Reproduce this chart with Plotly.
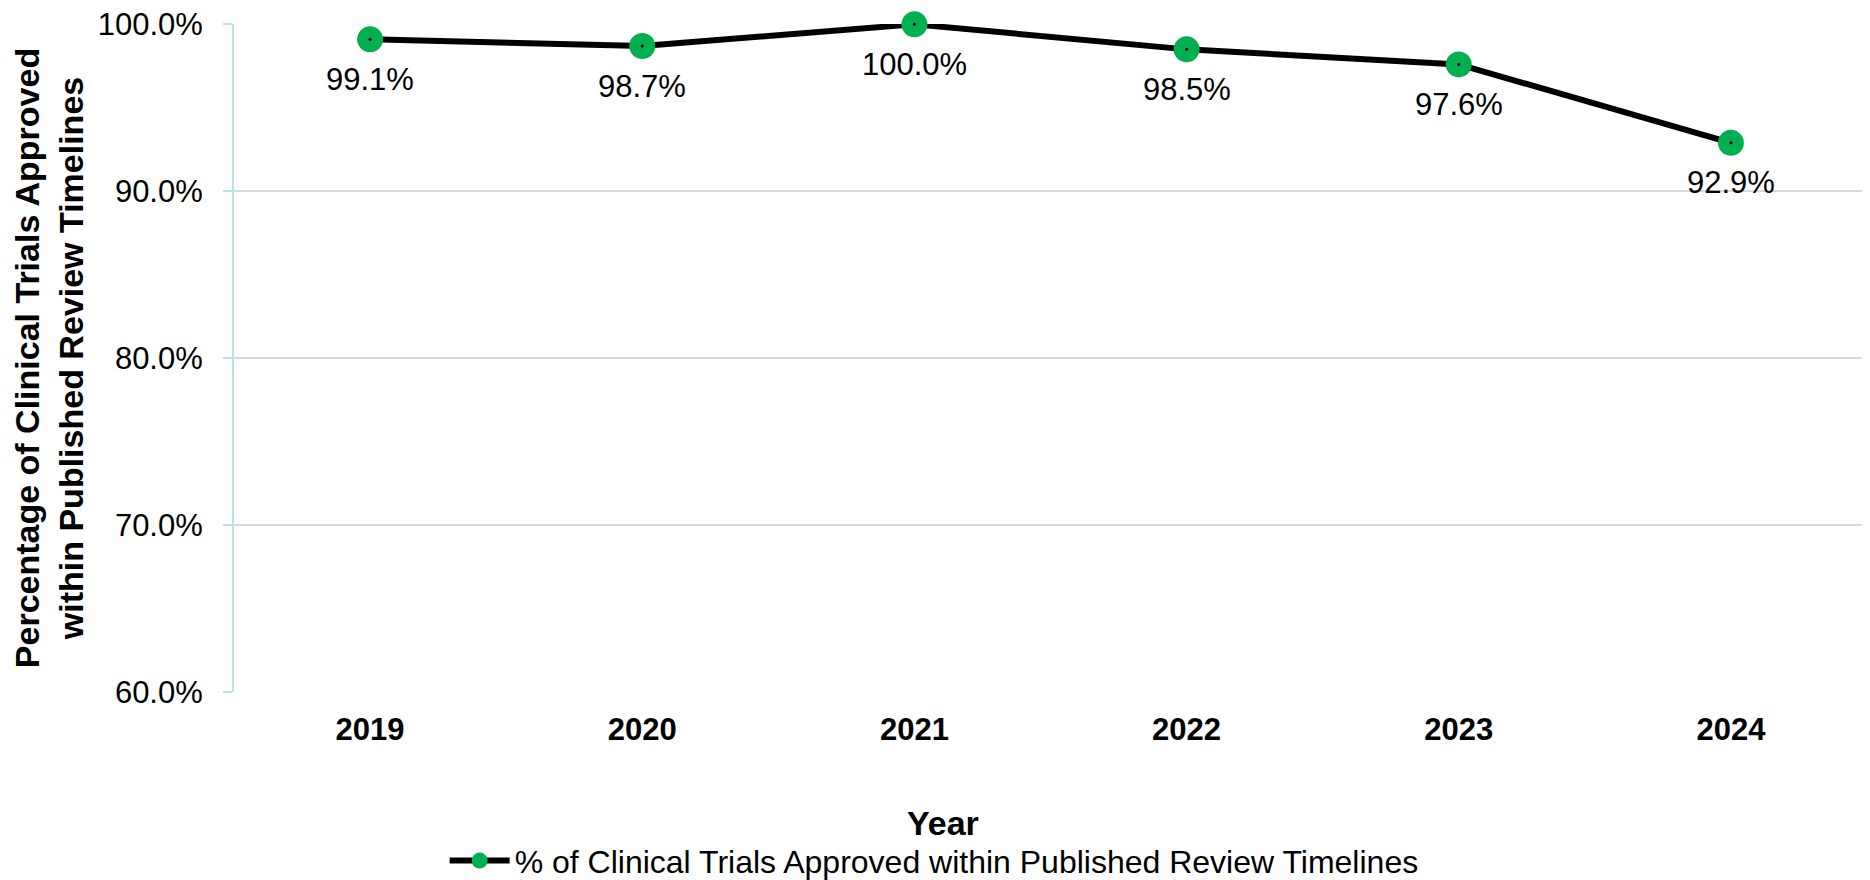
import plotly.graph_objects as go

years = ["2019", "2020", "2021", "2022", "2023", "2024"]
pct_approved = [99.1, 98.7, 100.0, 98.5, 97.6, 92.9]
y_ticks = [60, 70, 80, 90, 100]
series_name = "% of Clinical Trials Approved within Published Review Timelines"

FONT = "Liberation Sans, Arial, sans-serif"
GREEN = "#00b050"
AXIS_BLUE = "#b7e2e7"
GRID = "#d9d9d9"
FS = 31
TS = 34

fig = go.Figure()
fig.add_trace(go.Scatter(
    x=years, y=pct_approved, mode="lines+markers", name=series_name,
    line=dict(color="black", width=6),
    marker=dict(color=GREEN, size=26, line=dict(width=0)),
    cliponaxis=False, showlegend=True,
))
fig.add_trace(go.Scatter(
    x=years, y=pct_approved, mode="markers",
    marker=dict(color="black", size=3), cliponaxis=False,
    showlegend=False, hoverinfo="skip",
))

for i, v in enumerate(pct_approved):
    fig.add_annotation(x=i, y=v, xref="x", yref="y", text=f"{v:.1f}%", showarrow=False,
                       yshift=-40, font=dict(family=FONT, size=FS, color="black"))

# x-axis title, centred on the whole figure as in the reference
fig.add_annotation(text="<b>Year</b>", xref="paper", yref="paper", x=0.434, y=-0.196,
                   xanchor="center", yanchor="middle", showarrow=False,
                   font=dict(family=FONT, size=TS, color="black"))

# page body has an 8px margin, so the figure is sized/offset to compensate
fig.update_layout(
    width=1862, height=872,
    margin=dict(l=226, r=3, t=16, b=188, autoexpand=False),
    paper_bgcolor="white", plot_bgcolor="white",
    font=dict(family=FONT, size=FS, color="black"),
    showlegend=True,
    legend=dict(orientation="h", x=0.129, xanchor="left", yref="container", y=0.022, yanchor="middle",
                font=dict(family=FONT, size=32, color="black"), itemwidth=60),
)
fig.update_xaxes(
    type="category", range=[-0.5, 5.5], automargin=False,
    showgrid=False, showline=False, zeroline=False, ticks="",
    tickfont=dict(family=FONT, size=FS, color="black", weight="bold"),
    ticklabelstandoff=16,
)
fig.update_yaxes(
    range=[59.999, 100.02], tickvals=y_ticks, ticktext=[f"{t:.1f}%" for t in y_ticks],
    automargin=False, ticklabeloverflow="allow",
    showgrid=True, gridcolor=GRID, gridwidth=2,
    showline=True, linecolor=AXIS_BLUE, linewidth=2,
    ticks="outside", ticklen=9, tickcolor=AXIS_BLUE, tickwidth=2,
    ticklabelstandoff=14, zeroline=False,
    tickfont=dict(family=FONT, size=FS, color="black"),
    title=dict(text="<b>Percentage of Clinical Trials Approved<br>within Published Review Timelines</b>",
               font=dict(family=FONT, size=TS, color="black"), standoff=24),
)

fig.write_html("out.html")
